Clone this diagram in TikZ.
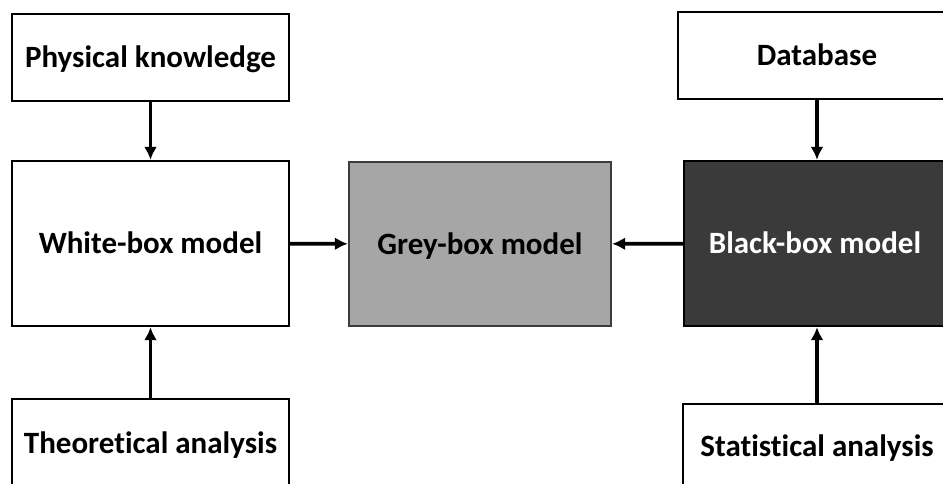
\documentclass[tikz,border=0pt]{standalone}
\usepackage{fontspec}
\setmainfont{Carlito}[Ligatures=NoCommon]
\usetikzlibrary{positioning,arrows.meta}
\tikzstyle{pixelGrid} = [x = 1pt, y = -1pt]
\definecolor{greyFill}{RGB}{166,166,166}
\definecolor{blackFill}{RGB}{58,58,58}
\definecolor{greyBorder}{RGB}{60,60,60}
\tikzstyle{modelBox} = [draw=black, line width=2.4pt, inner sep=0pt, text height=20pt, text depth=0pt, font=\fontsize{31}{36}\selectfont\bfseries]
\tikzstyle{sourceBox} = [modelBox, fill=white, minimum width=277pt, minimum height=87pt]
\tikzstyle{whiteBox} = [modelBox, fill=white, minimum width=277pt, minimum height=165pt]
\tikzstyle{greyBox} = [modelBox, draw=greyBorder, fill=greyFill, minimum width=262pt, minimum height=164pt]
\tikzstyle{blackBox} = [modelBox, fill=blackFill, text=white, minimum width=262pt, minimum height=165pt]
\tikzstyle{flowArrow} = [-{Latex[length=13pt, width=13pt]}, line width=3.6pt]

\begin{document}
\begin{tikzpicture}[pixelGrid]
  \useasboundingbox (0,0) rectangle (943,483);
  \clip (0,0) rectangle (943,483);

  % white-box side
  \node [sourceBox] (physical) at (150.5,57.5) {Physical knowledge};
  \node [whiteBox] (whiteModel) at (150.5,243.5) {White-box model};
  \node [sourceBox, minimum height=88pt] (theoretical) at (150.5,443) {Theoretical analysis};

  % grey-box
  \node [greyBox] (greyModel) at (480,244) {Grey-box model};

  % black-box side
  \node [sourceBox, minimum width=278pt] (database) at (817,55.5) {Database};
  \node [blackBox] (blackModel) at (815,243.5) {Black-box model};
  \node [sourceBox, minimum width=268pt, minimum height=84pt] (statistical) at (817,446) {Statistical analysis};

  \draw [flowArrow] (physical) -- (whiteModel);
  \draw [flowArrow] (theoretical) -- (whiteModel);
  \draw [flowArrow] (database.south) -- (database.south |- blackModel.north);
  \draw [flowArrow] (statistical.north -| database.south) -- (database.south |- blackModel.south);
  \draw [flowArrow] (whiteModel) -- (greyModel);
  \draw [flowArrow] (blackModel) -- (greyModel);
\end{tikzpicture}
\end{document}
